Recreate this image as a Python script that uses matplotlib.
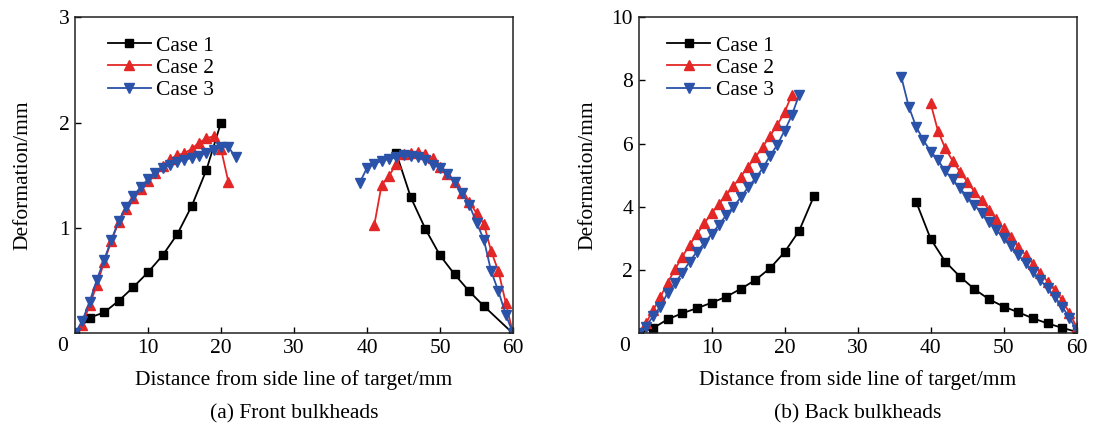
import matplotlib
matplotlib.use("Agg")
import matplotlib.pyplot as plt

plt.rcParams['font.family'] = ['Liberation Serif', 'DejaVu Serif']
plt.rcParams['font.size'] = 15.5

# (a) front bulkheads
fa_c1_x = [0, 2, 4, 6, 8, 10, 12, 14, 16, 18, 20]
fa_c1_y = [0, 0.15, 0.20, 0.31, 0.44, 0.58, 0.74, 0.94, 1.21, 1.55, 2.00]
fb_c1_x = [44, 46, 48, 50, 52, 54, 56, 60]
fb_c1_y = [1.71, 1.29, 0.99, 0.74, 0.56, 0.40, 0.26, 0]

fa_c2_x = list(range(0, 22))
fa_c2_y = [0, 0.08, 0.27, 0.46, 0.68, 0.88, 1.06, 1.18, 1.28, 1.37, 1.45, 1.52,
           1.59, 1.65, 1.69, 1.71, 1.75, 1.81, 1.85, 1.87, 1.75, 1.44]
fb_c2_x = list(range(41, 61))
fb_c2_y = [1.03, 1.41, 1.49, 1.61, 1.70, 1.71, 1.72, 1.70, 1.66, 1.58, 1.51,
           1.44, 1.33, 1.25, 1.14, 1.04, 0.78, 0.59, 0.29, 0]

fa_c3_x = list(range(0, 23))
fa_c3_y = [0, 0.12, 0.30, 0.51, 0.70, 0.89, 1.07, 1.20, 1.30, 1.39, 1.46, 1.52,
           1.57, 1.60, 1.63, 1.645, 1.665, 1.685, 1.71, 1.74, 1.77, 1.77, 1.67]
fb_c3_x = list(range(39, 61))
fb_c3_y = [1.43, 1.57, 1.61, 1.635, 1.655, 1.67, 1.69, 1.68, 1.67, 1.645, 1.60,
           1.57, 1.51, 1.44, 1.33, 1.22, 1.05, 0.89, 0.59, 0.40, 0.18, 0]

# (b) back bulkheads
ba_c1_x = [0, 2, 4, 6, 8, 10, 12, 14, 16, 18, 20, 22, 24]
ba_c1_y = [0, 0.17, 0.45, 0.64, 0.80, 0.97, 1.16, 1.41, 1.69, 2.06, 2.57, 3.25, 4.33]
bb_c1_x = [38, 40, 42, 44, 46, 48, 50, 52, 54, 56, 58, 60]
bb_c1_y = [4.17, 2.99, 2.27, 1.80, 1.40, 1.08, 0.85, 0.67, 0.48, 0.32, 0.18, 0.05]

ba_c2_x = list(range(0, 22))
ba_c2_y = [0, 0.32, 0.74, 1.16, 1.61, 2.03, 2.43, 2.80, 3.14, 3.48, 3.80, 4.09,
           4.38, 4.66, 4.96, 5.27, 5.57, 5.90, 6.24, 6.59, 6.99, 7.55]
bb_c2_x = list(range(40, 61))
bb_c2_y = [7.27, 6.40, 5.85, 5.46, 5.11, 4.80, 4.48, 4.22, 3.90, 3.61, 3.32,
           3.04, 2.74, 2.48, 2.20, 1.92, 1.64, 1.37, 1.05, 0.65, 0.20]

ba_c3_x = list(range(0, 23))
ba_c3_y = [0, 0.21, 0.55, 0.85, 1.29, 1.59, 1.92, 2.27, 2.59, 2.85, 3.14, 3.43,
           3.74, 4.01, 4.30, 4.62, 4.90, 5.22, 5.61, 5.96, 6.41, 6.90, 7.55]
bb_c3_x = list(range(36, 61))
bb_c3_y = [8.09, 7.17, 6.54, 6.11, 5.75, 5.48, 5.13, 4.87, 4.59, 4.32, 4.06,
           3.80, 3.53, 3.27, 3.01, 2.76, 2.48, 2.22, 1.95, 1.69, 1.43, 1.16,
           0.85, 0.50, 0.10]

case_labels = ['Case 1', 'Case 2', 'Case 3']
colors = ['black', '#e32626', '#2a52a8']
markers = ['s', '^', 'v']
msizes = [5.5, 6.5, 6.5]

front = [(fa_c1_x, fa_c1_y, fb_c1_x, fb_c1_y),
         (fa_c2_x, fa_c2_y, fb_c2_x, fb_c2_y),
         (fa_c3_x, fa_c3_y, fb_c3_x, fb_c3_y)]
back = [(ba_c1_x, ba_c1_y, bb_c1_x, bb_c1_y),
        (ba_c2_x, ba_c2_y, bb_c2_x, bb_c2_y),
        (ba_c3_x, ba_c3_y, bb_c3_x, bb_c3_y)]

fig = plt.figure(figsize=(10.93, 4.23), dpi=100)
ax1 = fig.add_axes([0.0686, 0.2116, 0.4008, 0.7482])
ax2 = fig.add_axes([0.5842, 0.2116, 0.4009, 0.7482])


def draw(ax, series, ylim, yticks, leg_x, zero_dx, ypad, caption):
    for i, (xa, ya, xb, yb) in enumerate(series):
        kw = dict(color=colors[i], marker=markers[i], ms=msizes[i], lw=1.3,
                  mec=colors[i], mfc=colors[i])
        ax.plot(xa, ya, label=case_labels[i], **kw)
        ax.plot(xb, yb, **kw)
    ax.set_xlim(0, 60)
    ax.set_ylim(*ylim)
    ax.set_xticks([10, 20, 30, 40, 50, 60])
    ax.set_yticks(yticks)
    ax.tick_params(direction='in', length=4, width=1, labelsize=15.5, pad=4,
                   top=False, right=False)
    for s in ax.spines.values():
        s.set_linewidth(1.1)
        s.set_color('#222222')
    ax.annotate('0', xy=(0, 0), xycoords='axes fraction', xytext=(zero_dx, -4),
                textcoords='offset pixels', ha='center', va='top', fontsize=15.5)
    ax.set_xlabel('Distance from side line of target/mm', fontsize=15.5, labelpad=9)
    ax.set_ylabel('Deformation/mm', fontsize=15.5, labelpad=ypad)
    ax.text(0.5, -0.255, caption, transform=ax.transAxes, ha='center',
            va='center', fontsize=15.5)
    ax.legend(loc='upper left', bbox_to_anchor=(leg_x, 0.975), frameon=False,
              borderpad=0, handlelength=2.0, handletextpad=0.25,
              labelspacing=0.1, fontsize=15.5)


draw(ax1, front, (0, 3), [1, 2, 3], 0.05, -12.5, 19, '(a) Front bulkheads')
draw(ax2, back, (0, 10), [2, 4, 6, 8, 10], 0.041, -13.5, 10, '(b) Back bulkheads')

fig.savefig('out.png', dpi=100)
